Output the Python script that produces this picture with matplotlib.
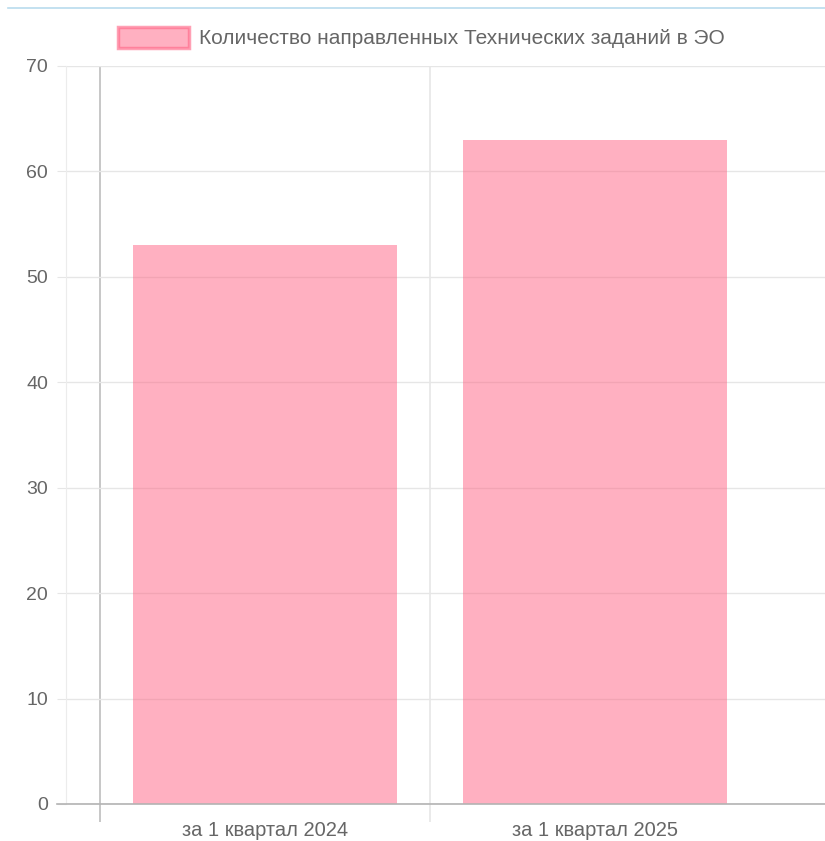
import matplotlib.pyplot as plt
from matplotlib.patches import Rectangle
from matplotlib.lines import Line2D
import numpy as np

categories = ['за 1 квартал 2024', 'за 1 квартал 2025']
values = [53, 63]
series_name = 'Количество направленных Технических заданий в ЭО'

plt.rcParams['font.family'] = ['Liberation Sans', 'DejaVu Sans']

W, H = 825, 841
fig = plt.figure(figsize=(W / 100, H / 100), dpi=100)
ax = fig.add_axes([66 / W, (H - 804) / H, (W - 66) / W, (804 - 66) / H])

x = np.arange(len(categories))
ax.bar(x, values, width=0.8, color=(1, 99 / 255, 132 / 255, 0.5), zorder=2)

ax.set_xlim(-0.603, 1.697)
ax.set_ylim(0, 70)
ax.set_yticks(np.arange(0, 71, 10))
ax.yaxis.grid(True, color='#e6e6e6', linewidth=1, zorder=0)
# tick length / pad are in points (1 pt = 1.39 px at dpi 100)
ax.tick_params(axis='y', length=6.5, color='#e6e6e6', labelcolor='#666666',
               labelsize=14, pad=6.5)
ax.set_xticks(x)
ax.set_xticklabels(categories)
ax.tick_params(axis='x', length=0, labelcolor='#666666', labelsize=14.5, pad=12)

for s in ['top', 'right']:
    ax.spines[s].set_visible(False)
ax.spines['left'].set_color('#ececec')
ax.spines['bottom'].set_color('#b3b3b3')
ax.spines['bottom'].set_bounds(-0.63, 1.697)
ax.spines['bottom'].set_linewidth(1.2)

# category boundary lines
ax.vlines([-0.5], -1.7, 70, colors='#bdbdbd', linewidth=1.2, clip_on=False, zorder=1)
ax.vlines([0.5], -1.7, 70, colors='#e6e6e6', linewidth=1.2, clip_on=False, zorder=1)

# legend
fig.patches.append(Rectangle((118 / W, 1 - 48 / H), 71 / W, 21 / H,
                             transform=fig.transFigure,
                             facecolor=(1, 99 / 255, 132 / 255, 0.5),
                             edgecolor=(1, 99 / 255, 132 / 255, 0.6), linewidth=2.5))
fig.text(199 / W, 1 - 38 / H, series_name, color='#666666', fontsize=15,
         va='center', ha='left')

# top border line
fig.add_artist(Line2D([8 / W, 1], [1 - 8 / H, 1 - 8 / H], transform=fig.transFigure,
                      color='#b9dced', linewidth=1.2))

fig.savefig('out.png', dpi=100)
